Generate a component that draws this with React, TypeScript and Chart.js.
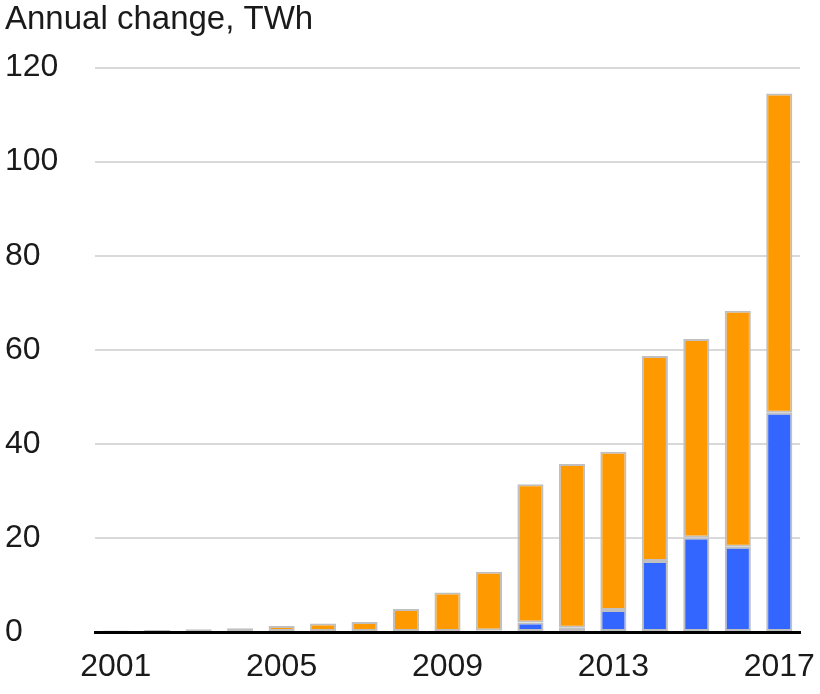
import React, { useEffect, useRef } from "react";
import { Chart, registerables } from "chart.js";

Chart.register(...registerables);

const years = ["2001","2002","2003","2004","2005","2006","2007","2008","2009","2010","2011","2012","2013","2014","2015","2016","2017"];
const blueValues = [0, 0, 0, 0, 0, 0, 0, 0, 0, 0.3, 2.0, 0.9, 4.7, 15.1, 20.1, 18.1, 46.6];
const orangeValues = [0.3, 0.4, 0.6, 0.8, 1.3, 1.8, 2.1, 4.9, 8.4, 12.5, 29.4, 34.8, 33.6, 43.6, 42.2, 50.2, 67.9];
const yTicks = [0, 20, 40, 60, 80, 100, 120];
const titleText = "Annual change, TWh";

const FONT = "'Liberation Sans', Arial, sans-serif";

export default function App() {
  const ref = useRef<HTMLCanvasElement | null>(null);
  useEffect(() => {
    if (!ref.current) return;
    const chart = new Chart(ref.current, {
      type: "bar",
      data: {
        labels: years,
        datasets: [
          {
            label: "Blue",
            data: blueValues,
            backgroundColor: "#3366ff",
            borderColor: "#c0c0c0",
            borderWidth: 2,
            borderSkipped: false,
            barPercentage: 0.63,
            categoryPercentage: 1,
          },
          {
            label: "Orange",
            data: orangeValues,
            backgroundColor: "#ff9900",
            borderColor: "#c0c0c0",
            borderWidth: 2,
            borderSkipped: false,
            barPercentage: 0.63,
            categoryPercentage: 1,
          },
        ],
      },
      options: {
        animation: false,
        responsive: false,
        layout: { padding: { left: 5, right: 0, top: 0, bottom: 0 } },
        plugins: {
          legend: { display: false },
          tooltip: { enabled: false },
          title: {
            display: true,
            text: titleText,
            align: "start",
            color: "#1a1a1a",
            font: { family: FONT, size: 33, weight: "normal" },
            padding: { top: 0, bottom: 28 },
          },
        },
        scales: {
          x: {
            stacked: true,
            offset: true,
            grid: { display: false, drawTicks: false },
            border: { display: true, color: "#000000", width: 3 },
            ticks: {
              autoSkip: false,
              maxRotation: 0,
              padding: 16,
              color: "#1a1a1a",
              font: { family: FONT, size: 32 },
              callback: (v: any, i: number) => (i % 4 === 0 ? years[i] : ""),
            },
            afterFit: (s: any) => { s.height = 62; s.paddingRight = 20; },
          },
          y: {
            stacked: true,
            min: 0,
            max: 120,
            afterBuildTicks: (s: any) => { s.ticks = yTicks.map((v) => ({ value: v })); },
            grid: { color: "#d9d9d9", lineWidth: 2, drawTicks: false },
            border: { display: false },
            ticks: {
              crossAlign: "far",
              color: "#1a1a1a",
              font: { family: FONT, size: 32 },
              padding: 0,
            },
            afterFit: (s: any) => { s.width = 90; },
          },
        },
      },
    });
    return () => chart.destroy();
  }, []);
  return (
    <div style={{ position: "absolute", left: 0, top: 0, width: 820, height: 694 }}>
      <canvas ref={ref} width={820} height={694} style={{ width: 820, height: 694 }} />
    </div>
  );
}
